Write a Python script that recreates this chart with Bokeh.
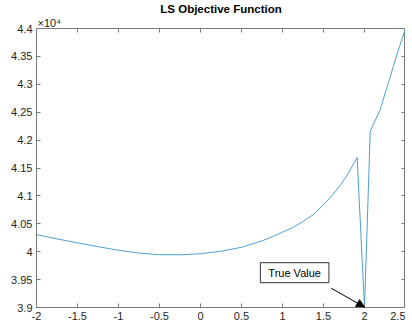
from bokeh.plotting import figure
from bokeh.models import (Range1d, FixedTicker, LinearAxis, Label, Arrow, NormalHead, Title)
from bokeh.embed import file_html
from bokeh.resources import INLINE

# ---- data ----
x_vals = [-2.0, -1.75, -1.5, -1.25, -1.0, -0.75, -0.5, -0.25, 0.0, 0.25, 0.5, 0.75,
          0.875, 1.0, 1.125, 1.25, 1.375, 1.5, 1.6, 1.7, 1.8, 1.91, 2.0, 2.07, 2.19,
          2.29, 2.39, 2.5]
y_vals = [40305, 40230, 40158, 40089, 40026, 39976, 39946, 39944, 39964, 40009, 40079,
          40194, 40268, 40349, 40435, 40540, 40665, 40840, 41000, 41180, 41400, 41690,
          39000, 42160, 42540, 43020, 43510, 44000]

x_ticks = [-2, -1.5, -1, -0.5, 0, 0.5, 1, 1.5, 2, 2.5]
x_tick_labels = ["-2", "-1.5", "-1", "-0.5", "0", "0.5", "1", "1.5", "2", "2.5"]
y_ticks = [39000, 39500, 40000, 40500, 41000, 41500, 42000, 42500, 43000, 43500, 44000]
y_tick_labels = ["3.9", "3.95", "4", "4.05", "4.1", "4.15", "4.2", "4.25", "4.3", "4.35", "4.4"]

title_text = "LS Objective Function"
exponent_text = "\u00d710\u2074"
annot_text = "True Value"
annot_box = (1.148, 39624)
arrow_start = (1.594, 39345)
arrow_end = (2.0, 39008)

FONT = "Liberation Sans"
AX = "#7a7a7a"

p = figure(width=405, height=322, output_backend="svg", toolbar_location=None,
           x_range=Range1d(-2, 2.5), y_range=Range1d(39000, 44000),
           min_border_left=36, min_border_right=0, min_border_top=0, min_border_bottom=0,
           x_axis_location=None, y_axis_location=None, title=None)

p.xgrid.visible = False
p.ygrid.visible = False
p.outline_line_color = AX
p.outline_line_width = 1
p.background_fill_color = "white"
p.border_fill_color = "white"


def style_axis(ax, ticks, labels, show):
    ax.ticker = FixedTicker(ticks=ticks)
    ax.major_label_overrides = {t: l for t, l in zip(ticks, labels)}
    ax.minor_tick_line_color = None
    ax.major_tick_in = 4
    ax.major_tick_out = 0
    ax.major_tick_line_color = AX
    ax.axis_line_color = AX
    ax.axis_label_standoff = 0
    ax.major_label_text_font = FONT
    ax.major_label_text_color = "#262626"
    if show:
        ax.major_label_text_font_size = "11px"
        ax.major_label_standoff = 4
    else:
        ax.major_label_text_font_size = "0px"
        ax.major_label_standoff = 0


xb = LinearAxis()
style_axis(xb, x_ticks, x_tick_labels, True)
p.add_layout(xb, "below")
xt = LinearAxis()
style_axis(xt, x_ticks, x_tick_labels, False)
p.add_layout(xt, "above")
yl = LinearAxis()
style_axis(yl, y_ticks, y_tick_labels, True)
p.add_layout(yl, "left")
yr = LinearAxis()
style_axis(yr, y_ticks, y_tick_labels, False)
p.add_layout(yr, "right")

# exponent label (closest to the frame), then the main title above it
p.add_layout(Title(text=exponent_text, align="left", text_font=FONT,
                   text_font_size="11px", text_font_style="normal",
                   text_color="#262626", offset=1, standoff=0), "above")
p.add_layout(Title(text=title_text, align="center", text_font=FONT,
                   text_font_size="11.5px", text_font_style="bold",
                   text_color="#000000", offset=0, standoff=0), "above")

p.line(x_vals, y_vals, line_color="#4f9fd4", line_width=1)

p.add_layout(Label(x=annot_box[0], y=annot_box[1], text=annot_text, text_font=FONT,
                   text_font_size="11px", text_color="#000000",
                   text_align="center", text_baseline="middle",
                   border_line_color="#333333", border_line_width=1,
                   background_fill_color="white",
                   padding=dict(left=8, right=8, top=4, bottom=4)))

p.add_layout(Arrow(x_start=arrow_start[0], y_start=arrow_start[1],
                   x_end=arrow_end[0], y_end=arrow_end[1],
                   line_color="#000000", line_width=1,
                   end=NormalHead(size=8, fill_color="black", line_color="black")))

open("out.html", "w").write(file_html(p, INLINE))
